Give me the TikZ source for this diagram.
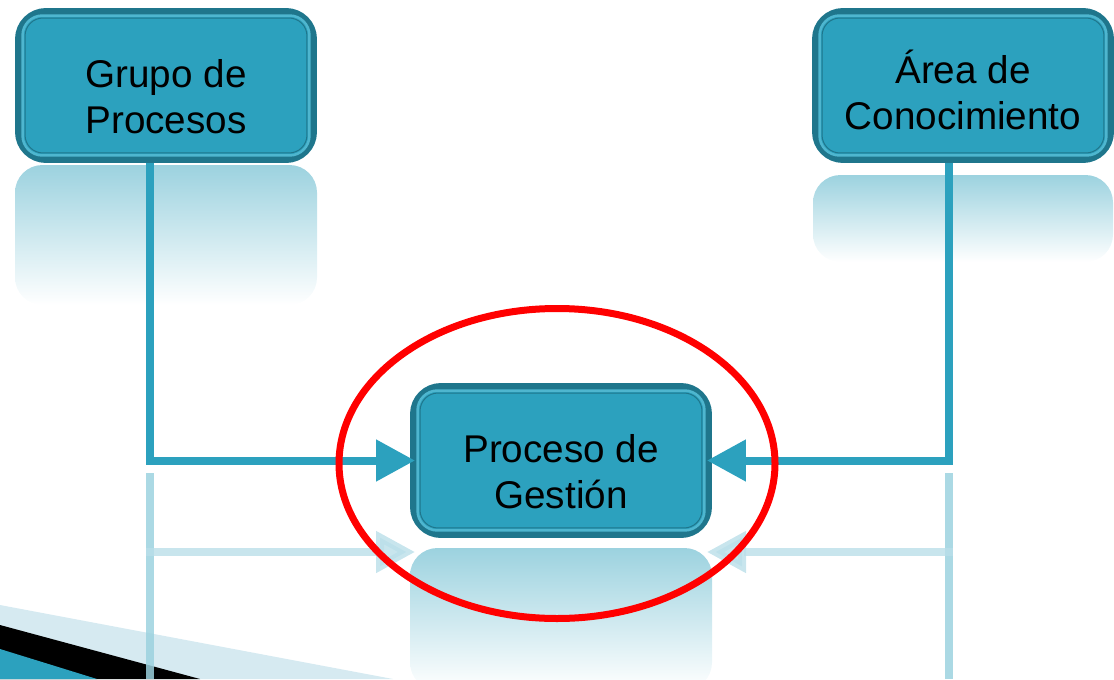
\documentclass[tikz,border=0pt]{standalone}
\usepackage{fontspec}
\setmainfont{Liberation Sans}
\usetikzlibrary{arrows.meta,shapes}
\definecolor{boxfill}{RGB}{44,161,190}
\definecolor{boxedge}{RGB}{31,118,140}
\definecolor{boxinner}{RGB}{78,182,207}
\definecolor{mirror}{RGB}{156,210,223}
\definecolor{band}{RGB}{214,234,241}

\tikzset{
  procbox/.style={draw=boxedge, line width=0.14cm, fill=boxfill,
    rounded corners=0.55cm, minimum width=5.9cm, minimum height=2.96cm,
    align=center, text=black, text height=55pt,
    font=\fontsize{22}{26.5}\selectfont},
  link/.style={boxfill, line width=0.16cm,
    -{Triangle[length=0.78cm,width=0.8cm]}},
  ghostlink/.style={mirror!70, line width=0.16cm, opacity=0.8,
    -{Triangle[length=0.78cm,width=0.8cm]}},
  ghostbox/.style={top color=mirror, bottom color=white, rounded corners=0.55cm},
  circled/.style={red, line width=0.14cm}
}

\begin{document}
\begin{tikzpicture}[x=0.02cm, y=-0.02cm]

\useasboundingbox (0,0) rectangle (1114,679);

% slide corner
\fill [band] (0,605) -- (393,679) -- (0,679) -- cycle;
\fill [black] (0,625) -- (200,679) -- (0,679) -- cycle;
\fill [boxfill] (0,649) -- (97,679) -- (0,679) -- cycle;

% reflections
\coordinate (gl) at (150,473);
\coordinate (gr) at (949,473);
\draw [mirror, line width=0.16cm, opacity=0.85] (gl) -- (150,679);
\draw [mirror, line width=0.16cm, opacity=0.85] (gr) -- (949,679);
\draw [ghostlink] (146,552) -- (415,552);
\draw [ghostlink] (953,552) -- (707,552);

\shade [ghostbox] (15,165) rectangle (317,305);
\shade [ghostbox] (813,175) rectangle (1113,262);
\shade [ghostbox] (410,548) rectangle (712,690);
\draw [mirror, line width=0.16cm, opacity=0.85] (150,165) -- (150,305);
\draw [mirror, line width=0.16cm, opacity=0.85] (949,175) -- (949,262);

% boxes
\node (grupo) at (166,85.5) [procbox] {Grupo de\\Procesos};
\node (area) at (963,85.5) [procbox, text height=50.5pt] {Área de\\Conocimiento};
\node (gestion) at (561,460.5) [procbox] {Proceso de\\Gestión};

\foreach \n in {grupo,area,gestion}{
  \draw [boxinner, line width=0.05cm, rounded corners=0.4cm]
    ([shift={(0.15cm,-0.15cm)}]\n.north west) rectangle ([shift={(-0.15cm,0.15cm)}]\n.south east);
  \draw [boxedge, line width=0.02cm, rounded corners=0.36cm]
    ([shift={(0.2cm,-0.2cm)}]\n.north west) rectangle ([shift={(-0.2cm,0.2cm)}]\n.south east);
}

% links
\draw [link] ([xshift=-0.32cm]grupo.south) |- ([xshift=0.1cm]gestion.west);
\draw [link] ([xshift=-0.28cm]area.south) |- ([xshift=-0.1cm]gestion.east);

\draw [circled] ([shift={(-4,3)}]gestion.center) ellipse (218 and 155);

\end{tikzpicture}
\end{document}
